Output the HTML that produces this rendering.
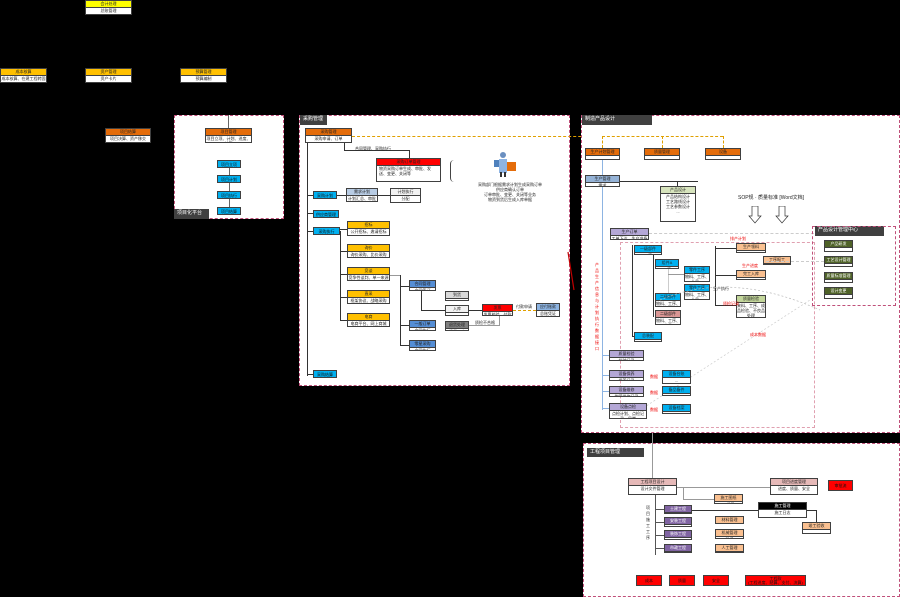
<!DOCTYPE html>
<html><head><meta charset="utf-8">
<style>
*{margin:0;padding:0;box-sizing:border-box}
body{width:900px;height:597px;background:#000;position:relative;overflow:hidden;font-family:"Liberation Sans","Noto Sans CJK SC",sans-serif}
.p{position:absolute;background:#fff;border:1px dashed #c0507a}
.n{position:absolute;background:#fff;border:1px solid #404040;font-size:4px;line-height:5px;text-align:center;color:#222;overflow:hidden}
.h{font-size:4px;line-height:6px;color:#222;border-bottom:1px solid #404040;white-space:nowrap;overflow:hidden}
.b{position:absolute;font-size:4px;line-height:7px;text-align:center;border:1px solid #404040;color:#111;white-space:nowrap;overflow:hidden}
.lb{position:absolute;background:#404040;color:#fff;font-size:5px;line-height:9px;padding-left:3px;white-space:nowrap}
.l{position:absolute;background:#333}
.t{position:absolute;font-size:4px;line-height:5px;color:#222;white-space:nowrap}
</style></head><body>

<!-- top left org -->
<div class="n" style="left:85px;top:0;width:47px;height:15px"><div class="h" style="background:#ffff00">会计处理</div>总账管理</div>
<div class="n" style="left:0;top:68px;width:47px;height:15px"><div class="h" style="background:#ffc000">成本核算</div>成本核算、在建工程转固</div>
<div class="n" style="left:85px;top:68px;width:47px;height:15px"><div class="h" style="background:#ffc000">资产管理</div>资产卡片</div>
<div class="n" style="left:180px;top:68px;width:47px;height:15px"><div class="h" style="background:#ffc000">预算管理</div>预算编制</div>
<div class="n" style="left:105px;top:128px;width:46px;height:15px"><div class="h" style="background:#e46c0a">项目结算</div>项目决算、资产移交</div>

<!-- panel 1 -->
<div class="p" style="left:174px;top:115px;width:110px;height:104px"></div>
<div class="l" style="left:228px;top:115px;width:1px;height:13px;background:#666"></div>
<div class="n" style="left:205px;top:128px;width:47px;height:15px"><div class="h" style="background:#e46c0a">项目管理</div>项目立项、计划、进度、结算</div>
<div class="l" style="left:229px;top:166px;width:1px;height:45px;background:#666"></div>
<div class="b" style="left:217px;top:160px;width:24px;height:8px;background:#00b0f0">项目立项</div>
<div class="b" style="left:217px;top:175px;width:24px;height:8px;background:#00b0f0">项目计划</div>
<div class="b" style="left:217px;top:191px;width:24px;height:8px;background:#00b0f0">项目执行</div>
<div class="b" style="left:217px;top:207px;width:24px;height:8px;background:#00b0f0">项目结算</div>
<div class="lb" style="left:174px;top:209px;width:35px;height:10px">项目化平台</div>

<!-- panel 2 -->
<div class="p" style="left:299px;top:115px;width:271px;height:271px"></div>
<div class="lb" style="left:300px;top:115px;width:27px;height:10px">采购管理</div>
<div class="n" style="left:305px;top:128px;width:47px;height:15px"><div class="h" style="background:#e46c0a">采购管理</div>采购申请、订单</div>
<div class="l" style="left:352px;top:136px;width:370px;height:0;border-top:1px dashed #e0a000;background:none"></div>
<div class="l" style="left:344px;top:143px;width:1px;height:8px"></div>
<div class="l" style="left:344px;top:150px;width:65px;height:1px"></div>
<div class="l" style="left:409px;top:150px;width:1px;height:8px"></div>
<div class="t" style="left:355px;top:146px">合同管理、采购执行</div>
<div class="n" style="left:376px;top:158px;width:65px;height:24px;text-align:left;padding:0 2px"><div class="h" style="background:#ff0000;text-align:center;margin:0 -2px">采购订单管理</div>物资采购订单生成、审批、发送、变更、关闭等</div>
<div class="l" style="left:450px;top:160px;width:5px;height:22px;background:none;border-left:1px solid #444;border-radius:4px 0 0 4px"></div>
<svg style="position:absolute;left:492px;top:150px" width="26" height="28"><circle cx="11" cy="5" r="3" fill="#6a8fc0"/><rect x="7" y="9" width="8" height="14" fill="#8eb4e3"/><rect x="2" y="10" width="5" height="7" fill="#4f81bd"/><rect x="15" y="12" width="9" height="9" fill="#e46c0a"/><rect x="8" y="22" width="2" height="5" fill="#333"/><rect x="12" y="22" width="2" height="5" fill="#333"/></svg>
<div class="t" style="left:474px;top:182px;text-align:center;width:72px">采购部门根据需求计划生成采购订单<br>供应商确认订单<br>订单审批、变更、关闭等业务<br>物资到货后生成入库单据</div>
<div class="l" style="left:307px;top:143px;width:1px;height:233px"></div>
<div class="b" style="left:313px;top:191px;width:24px;height:8px;background:#00b0f0">采购计划</div>
<div class="b" style="left:313px;top:210px;width:26px;height:8px;background:#00b0f0">供应商管理</div>
<div class="b" style="left:313px;top:227px;width:27px;height:8px;background:#00b0f0">采购执行</div>
<div class="b" style="left:313px;top:370px;width:24px;height:8px;background:#00b0f0">采购结算</div>
<div class="l" style="left:307px;top:195px;width:6px;height:1px"></div>
<div class="l" style="left:307px;top:213px;width:6px;height:1px"></div>
<div class="l" style="left:307px;top:231px;width:6px;height:1px"></div>
<div class="l" style="left:307px;top:374px;width:6px;height:1px"></div>
<div class="l" style="left:337px;top:195px;width:9px;height:1px"></div>
<div class="n" style="left:346px;top:188px;width:32px;height:14px"><div class="h" style="background:#b8cce4">需求计划</div>计划汇总、审批</div>
<div class="l" style="left:378px;top:195px;width:12px;height:1px"></div>
<div class="n" style="left:390px;top:188px;width:31px;height:15px"><div class="h" style="background:#f2f2f2">计划执行</div>分配</div>
<div class="l" style="left:340px;top:231px;width:1px;height:90px"></div>
<div class="n" style="left:347px;top:221px;width:43px;height:15px"><div class="h" style="background:#ffc000">招标</div>公开招标、邀请招标</div>
<div class="n" style="left:347px;top:244px;width:43px;height:14px"><div class="h" style="background:#ffc000">询价</div>询价采购、比价采购</div>
<div class="n" style="left:347px;top:267px;width:43px;height:14px"><div class="h" style="background:#ffc000">竞谈</div>竞争性谈判、单一来源</div>
<div class="n" style="left:347px;top:290px;width:43px;height:14px"><div class="h" style="background:#ffc000">直采</div>框架协议、战略采购</div>
<div class="n" style="left:347px;top:313px;width:43px;height:14px"><div class="h" style="background:#ffc000">电商</div>电商平台、网上商城</div>
<div class="l" style="left:340px;top:229px;width:7px;height:1px"></div>
<div class="l" style="left:340px;top:251px;width:7px;height:1px"></div>
<div class="l" style="left:340px;top:274px;width:7px;height:1px"></div>
<div class="l" style="left:340px;top:297px;width:7px;height:1px"></div>
<div class="l" style="left:340px;top:320px;width:7px;height:1px"></div>
<div class="l" style="left:390px;top:275px;width:11px;height:1px;background:#999"></div>
<div class="l" style="left:400px;top:275px;width:1px;height:71px"></div>
<div class="n" style="left:409px;top:280px;width:27px;height:11px"><div class="h" style="background:#558ed5">合同管理</div>合同签订</div>
<div class="n" style="left:409px;top:320px;width:27px;height:11px"><div class="h" style="background:#558ed5">一般订单</div>合同执行</div>
<div class="n" style="left:409px;top:340px;width:27px;height:11px"><div class="h" style="background:#558ed5">零星采购</div>合同执行</div>
<div class="l" style="left:400px;top:286px;width:9px;height:1px"></div>
<div class="l" style="left:400px;top:325px;width:9px;height:1px"></div>
<div class="l" style="left:400px;top:345px;width:9px;height:1px"></div>
<div class="l" style="left:421px;top:291px;width:1px;height:19px"></div>
<div class="l" style="left:421px;top:310px;width:61px;height:1px"></div>
<div class="n" style="left:445px;top:291px;width:24px;height:10px"><div class="h" style="background:#d9d9d9">到货</div>-</div>
<div class="n" style="left:445px;top:305px;width:24px;height:11px"><div class="h" style="background:#f2f2f2">入库</div>-</div>
<div class="n" style="left:445px;top:321px;width:24px;height:10px"><div class="h" style="background:#7f7f7f">退货处理</div>退货入库</div>
<div class="l" style="left:469px;top:325px;width:30px;height:1px;background:#999"></div>
<div class="l" style="left:499px;top:316px;width:1px;height:10px;background:#999"></div>
<div class="t" style="left:475px;top:320px">质检不合格</div>
<div class="n" style="left:482px;top:304px;width:31px;height:12px"><div class="h" style="background:#ff0000">发票</div>发票校验、付款</div>
<div class="l" style="left:513px;top:310px;width:23px;height:0;border-top:1px dashed #e0a000;background:none"></div>
<div class="t" style="left:516px;top:304px">付款申请</div>
<div class="n" style="left:536px;top:303px;width:24px;height:14px"><div class="h" style="background:#8db4e2">应付账款</div>总账凭证</div>
<svg style="position:absolute;left:566px;top:250px" width="10" height="42"><line x1="2" y1="2" x2="8" y2="40" stroke="#c00000" stroke-width="1.2"/></svg>

<!-- panel 3 -->
<div class="p" style="left:581px;top:115px;width:319px;height:318px"></div>
<div class="lb" style="left:582px;top:115px;width:70px;height:10px">制造产品设计</div>
<div class="l" style="left:602px;top:136px;width:121px;height:0;border-top:1px dashed #e0a000;background:none"></div>
<div class="l" style="left:602px;top:136px;width:0;height:12px;border-left:1px dashed #e0a000;background:none"></div>
<div class="l" style="left:662px;top:136px;width:0;height:12px;border-left:1px dashed #e0a000;background:none"></div>
<div class="l" style="left:723px;top:136px;width:0;height:12px;border-left:1px dashed #e0a000;background:none"></div>
<div class="n" style="left:585px;top:148px;width:35px;height:12px"><div class="h" style="background:#e46c0a">生产计划管理</div></div>
<div class="n" style="left:644px;top:148px;width:36px;height:12px"><div class="h" style="background:#e46c0a">质量管理</div></div>
<div class="n" style="left:705px;top:148px;width:36px;height:12px"><div class="h" style="background:#e46c0a">设备</div></div>
<div class="l" style="left:602px;top:160px;width:1px;height:250px;background:#8db4e2"></div>
<div class="n" style="left:585px;top:175px;width:35px;height:12px"><div class="h" style="background:#95b3d7">生产管理</div>需求</div>
<div class="l" style="left:620px;top:181px;width:78px;height:1px"></div>
<div class="l" style="left:677px;top:181px;width:1px;height:5px"></div>
<div class="n" style="left:660px;top:186px;width:36px;height:36px;line-height:5px"><div class="h" style="background:#d7e4bd">产品设计</div>产品结构设计<br>工艺路线设计<br>工艺参数设计<br>...</div>
<div class="t" style="left:738px;top:196px;font-size:5px">SOP规 · 质量标准 [Word文档]</div>
<svg style="position:absolute;left:748px;top:206px" width="44" height="18"><path d="M4 0v10h-3l6 7 6-7h-3V0z" fill="#fff" stroke="#333" stroke-width=".7"/><path d="M31 0v10h-3l6 7 6-7h-3V0z" fill="#fff" stroke="#333" stroke-width=".7"/></svg>
<div class="l" style="left:620px;top:242px;width:195px;height:186px;border:1px dashed #e0a0b0;background:none"></div>
<div class="n" style="left:610px;top:228px;width:39px;height:12px"><div class="h" style="background:#b4a7d6">生产订单</div>工单下达、生产准备</div>
<div class="l" style="left:649px;top:233px;width:175px;height:0;border-top:1px dashed #ccc;background:none"></div>
<div class="t" style="left:730px;top:236px;color:#e00">排产计划</div>
<div class="l" style="left:632px;top:245px;width:1px;height:92px"></div>
<div class="n" style="left:634px;top:245px;width:28px;height:10px"><div class="h" style="background:#00b0f0">一级部件</div>工序</div>
<div class="l" style="left:653px;top:255px;width:1px;height:62px"></div>
<div class="n" style="left:655px;top:259px;width:24px;height:10px"><div class="h" style="background:#00b0f0">组件A</div>工序</div>
<div class="l" style="left:668px;top:269px;width:1px;height:25px;background:#ccc"></div>
<div class="n" style="left:684px;top:266px;width:26px;height:16px"><div class="h" style="background:#00b0f0">零件工序</div>物料、工序、人员…</div>
<div class="n" style="left:684px;top:284px;width:26px;height:16px"><div class="h" style="background:#00b0f0">零件工序</div>物料、工序、人员…</div>
<div class="l" style="left:668px;top:274px;width:16px;height:1px;background:#999"></div>
<div class="n" style="left:655px;top:293px;width:26px;height:14px"><div class="h" style="background:#00b0f0">二级部件</div>物料、工序、人员</div>
<div class="n" style="left:655px;top:310px;width:26px;height:15px"><div class="h" style="background:#da9694">二级部件</div>物料、工序、人员</div>
<div class="n" style="left:634px;top:332px;width:28px;height:10px"><div class="h" style="background:#00b0f0">总装配</div>...</div>
<div class="l" style="left:632px;top:336px;width:2px;height:1px"></div>
<div class="l" style="left:715px;top:246px;width:1px;height:60px"></div>
<div class="l" style="left:715px;top:248px;width:21px;height:1px"></div>
<div class="l" style="left:715px;top:275px;width:21px;height:1px"></div>
<div class="l" style="left:715px;top:305px;width:21px;height:1px"></div>
<div class="n" style="left:736px;top:243px;width:30px;height:10px"><div class="h" style="background:#fac090">生产领料</div>-</div>
<div class="n" style="left:763px;top:256px;width:28px;height:9px"><div class="h" style="background:#fac090">工序报工</div>-</div>
<div class="n" style="left:736px;top:270px;width:30px;height:10px"><div class="h" style="background:#fac090">完工入库</div></div>
<div class="n" style="left:736px;top:295px;width:30px;height:23px"><div class="h" style="background:#c3d69b">质量检验</div>来料、工序、成品检验、不良品处理</div>
<div class="t" style="left:713px;top:286px">生产执行</div>
<div class="t" style="left:723px;top:301px;color:#e00">质检记录</div>
<div class="l" style="left:766px;top:261px;width:58px;height:0;border-top:1px dashed #ccc;background:none"></div>
<div class="t" style="left:742px;top:263px;color:#e00">生产进度</div>
<svg style="position:absolute;left:640px;top:280px" width="200" height="140"><path d="M20 20 Q90 -10 180 30" stroke="#bbb" stroke-dasharray="2 2" fill="none" stroke-width=".7"/><line x1="0" y1="130" x2="170" y2="20" stroke="#ccc" stroke-width=".7" stroke-dasharray="2 2"/></svg>
<div class="t" style="left:750px;top:332px;color:#e00">成本数据</div>
<div class="lb" style="left:815px;top:226px;width:69px;height:10px">产品设计管理中心</div>
<div class="l" style="left:812px;top:226px;width:84px;height:80px;border:1px dashed #c0507a;background:none"></div>
<div class="n" style="left:824px;top:240px;width:29px;height:12px"><div class="h" style="background:#4f6228;color:#fff">产品研发</div></div>
<div class="n" style="left:824px;top:256px;width:29px;height:11px"><div class="h" style="background:#4f6228;color:#fff">工艺设计管理</div></div>
<div class="n" style="left:824px;top:272px;width:29px;height:11px"><div class="h" style="background:#4f6228;color:#fff">质量标准管理</div></div>
<div class="n" style="left:824px;top:287px;width:29px;height:12px"><div class="h" style="background:#4f6228;color:#fff">设计变更</div></div>
<div class="t" style="left:595px;top:262px;color:#e00;width:5px;white-space:normal;line-height:6px;font-size:4px">产品生产信息与计划执行数据接口</div>
<div class="n" style="left:609px;top:350px;width:35px;height:11px"><div class="h" style="background:#b4a7d6">质量检验</div>检验记录</div>
<div class="n" style="left:609px;top:370px;width:35px;height:11px"><div class="h" style="background:#b4a7d6">设备保养</div>保养记录</div>
<div class="n" style="left:609px;top:386px;width:35px;height:11px"><div class="h" style="background:#b4a7d6">设备维修</div>故障维修记录</div>
<div class="n" style="left:609px;top:403px;width:38px;height:16px"><div class="h" style="background:#b4a7d6">设备点检</div>点检计划、点检记录、异常</div>
<div class="l" style="left:602px;top:355px;width:7px;height:1px;background:#8db4e2"></div>
<div class="l" style="left:602px;top:375px;width:7px;height:1px;background:#8db4e2"></div>
<div class="l" style="left:602px;top:391px;width:7px;height:1px;background:#8db4e2"></div>
<div class="l" style="left:602px;top:408px;width:7px;height:1px;background:#8db4e2"></div>
<div class="n" style="left:662px;top:370px;width:29px;height:14px"><div class="h" style="background:#00b0f0">设备台账</div>...</div>
<div class="n" style="left:662px;top:386px;width:29px;height:10px"><div class="h" style="background:#00b0f0">备品备件</div></div>
<div class="n" style="left:662px;top:404px;width:29px;height:10px"><div class="h" style="background:#00b0f0">设备档案</div>...</div>
<div class="t" style="left:650px;top:374px;color:#e00">数据</div>
<div class="t" style="left:650px;top:390px;color:#e00">数据</div>
<div class="t" style="left:650px;top:407px;color:#e00">数据</div>

<!-- panel 4 -->
<div class="p" style="left:583px;top:443px;width:317px;height:154px"></div>
<div class="lb" style="left:587px;top:448px;width:57px;height:9px">工程项目管理</div>
<div class="l" style="left:652px;top:433px;width:1px;height:45px;background:#999"></div>
<div class="n" style="left:628px;top:478px;width:49px;height:17px"><div class="h" style="background:#e6b9b8">工程项目设计</div>设计文件管理</div>
<div class="l" style="left:677px;top:487px;width:93px;height:1px;background:#999"></div>
<div class="l" style="left:683px;top:487px;width:1px;height:12px;background:#999"></div>
<div class="l" style="left:683px;top:499px;width:31px;height:1px;background:#999"></div>
<div class="n" style="left:770px;top:478px;width:48px;height:17px"><div class="h" style="background:#e6b9b8">项目进度管理</div>进度、质量、安全</div>
<div class="b" style="left:828px;top:480px;width:25px;height:11px;background:#ff0000;line-height:9px">审批流</div>
<div class="n" style="left:714px;top:494px;width:29px;height:10px"><div class="h" style="background:#fac090">施工图纸</div>工程量</div>
<div class="n" style="left:758px;top:502px;width:49px;height:16px"><div class="h" style="background:#000;color:#fff">施工管理</div>施工日志</div>
<div class="l" style="left:692px;top:510px;width:66px;height:1px"></div>
<div class="l" style="left:807px;top:510px;width:10px;height:1px"></div>
<div class="l" style="left:816px;top:510px;width:1px;height:12px"></div>
<div class="n" style="left:802px;top:522px;width:29px;height:12px"><div class="h" style="background:#fac090">竣工验收</div></div>
<div class="l" style="left:655px;top:495px;width:1px;height:60px;background:#555"></div>
<div class="t" style="left:646px;top:505px;width:5px;white-space:normal;line-height:6px">项目施工工序</div>
<div class="n" style="left:664px;top:505px;width:28px;height:9px"><div class="h" style="background:#8064a2;color:#fff">土建工程</div></div>
<div class="n" style="left:664px;top:517px;width:28px;height:10px"><div class="h" style="background:#8064a2;color:#fff">安装工程</div></div>
<div class="n" style="left:664px;top:530px;width:28px;height:10px"><div class="h" style="background:#8064a2;color:#fff">装饰工程</div></div>
<div class="n" style="left:664px;top:544px;width:28px;height:9px"><div class="h" style="background:#8064a2;color:#fff">市政工程</div></div>
<div class="l" style="left:655px;top:509px;width:9px;height:1px;background:#555"></div>
<div class="l" style="left:655px;top:522px;width:9px;height:1px;background:#555"></div>
<div class="l" style="left:655px;top:535px;width:9px;height:1px;background:#555"></div>
<div class="l" style="left:655px;top:548px;width:9px;height:1px;background:#555"></div>
<div class="n" style="left:715px;top:516px;width:29px;height:8px"><div class="h" style="background:#fac090">材料管理</div></div>
<div class="n" style="left:715px;top:529px;width:29px;height:10px"><div class="h" style="background:#fac090">机械管理</div>租赁</div>
<div class="n" style="left:715px;top:544px;width:29px;height:9px"><div class="h" style="background:#fac090">人工管理</div>劳务分包</div>
<div class="b" style="left:636px;top:575px;width:26px;height:11px;background:#ff0000;line-height:9px">成本</div>
<div class="b" style="left:669px;top:575px;width:26px;height:11px;background:#ff0000;line-height:9px">质量</div>
<div class="b" style="left:703px;top:575px;width:26px;height:11px;background:#ff0000;line-height:9px">安全</div>
<div class="b" style="left:745px;top:575px;width:61px;height:11px;background:#ff0000;line-height:4px;padding-top:1px">工程款<br>(工程进度、结算、支付、决算)</div>
</body></html>
